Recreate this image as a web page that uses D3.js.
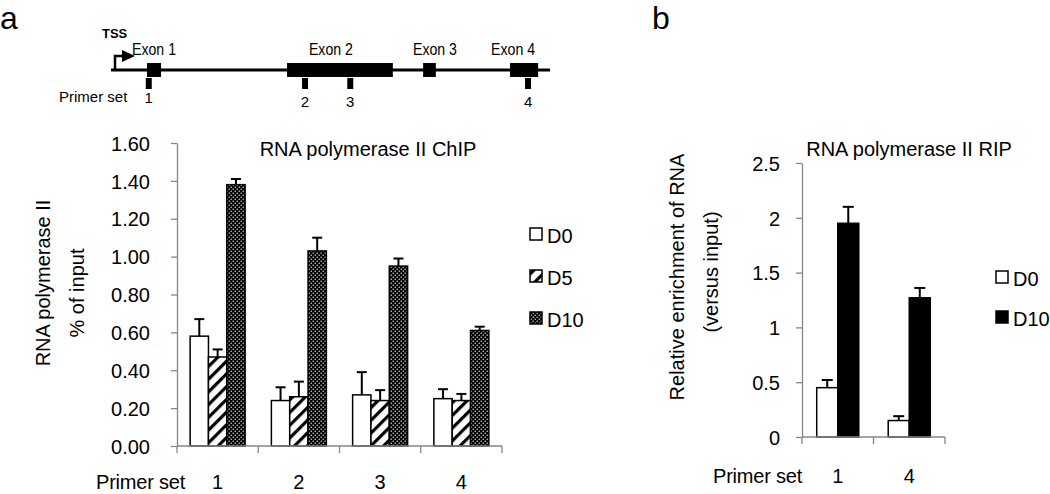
<!DOCTYPE html>
<html>
<head>
<meta charset="utf-8">
<script src="https://cdn.jsdelivr.net/npm/d3@7"></script>
<style>
  body { margin: 0; background: #fff; }
  svg { display: block; font-family: "Liberation Sans", Arial, sans-serif; }
  .axis path, .axis line { stroke: #868686; stroke-width: 1.3; }
  .axis text { font-size: 20px; fill: #000; }
</style>
</head>
<body>
<svg id="fig" width="1050" height="494"></svg>
<script>
// panel a: RNA polymerase II ChIP
const primersA = ["1", "2", "3", "4"];
const seriesA = ["D0", "D5", "D10"];
const chipD0 = [0.58, 0.24, 0.27, 0.25];
const chipD5 = [0.47, 0.26, 0.24, 0.24];
const chipD10 = [1.38, 1.03, 0.95, 0.61];
const chipErrD0 = [0.09, 0.07, 0.12, 0.05];
const chipErrD5 = [0.04, 0.08, 0.055, 0.035];
const chipErrD10 = [0.03, 0.07, 0.04, 0.02];
const chipTicks = [0, 0.2, 0.4, 0.6, 0.8, 1.0, 1.2, 1.4, 1.6];
const chipTickLabels = ["0.00", "0.20", "0.40", "0.60", "0.80", "1.00", "1.20", "1.40", "1.60"];

// panel b: RNA polymerase II RIP
const primersB = ["1", "4"];
const seriesB = ["D0", "D10"];
const ripD0 = [0.45, 0.15];
const ripD10 = [1.95, 1.27];
const ripErrD0 = [0.07, 0.04];
const ripErrD10 = [0.15, 0.09];
const ripTicks = [0, 0.5, 1, 1.5, 2, 2.5];
const ripTickLabels = ["0", "0.5", "1", "1.5", "2", "2.5"];

// gene diagram (relative positions along the gene line)
const exonNames = ["Exon 1", "Exon 2", "Exon 3", "Exon 4"];
const exonStart = [0.082, 0.401, 0.711, 0.909];
const exonEnd = [0.114, 0.642, 0.740, 0.973];
const exonLabelPos = [0.098, 0.501, 0.738, 0.916];
const primerNames = ["1", "2", "3", "4"];
const primerPos = [0.086, 0.442, 0.545, 0.950];

const svg = d3.select("#fig");
const defs = svg.append("defs");

const stripes = defs.append("pattern")
    .attr("id", "stripes")
    .attr("patternUnits", "userSpaceOnUse")
    .attr("width", 9).attr("height", 9)
    .attr("patternTransform", "rotate(45)");
stripes.append("rect").attr("width", 9).attr("height", 9).attr("fill", "#fff");
stripes.append("rect").attr("width", 3.2).attr("height", 9).attr("fill", "#000");

const dots = defs.append("pattern")
    .attr("id", "dots")
    .attr("patternUnits", "userSpaceOnUse")
    .attr("width", 4).attr("height", 4);
dots.append("rect").attr("width", 4).attr("height", 4).attr("fill", "#000");
dots.append("rect").attr("x", 0.6).attr("y", 0.6).attr("width", 1.2).attr("height", 1.2).attr("fill", "#fff");
dots.append("rect").attr("x", 2.6).attr("y", 2.6).attr("width", 1.2).attr("height", 1.2).attr("fill", "#fff");

const fills = { D0: "#fff", D5: "url(#stripes)", D10: "url(#dots)" };

// panel letters
svg.append("text").attr("x", 0).attr("y", 29).attr("font-size", 32).text("a");
svg.append("text").attr("x", 652).attr("y", 29).attr("font-size", 32).text("b");

// ---- gene diagram ----
const gx = d3.scaleLinear().domain([0, 1]).range([111, 550]);
const gene = svg.append("g");
const lineY = 70;

gene.append("line")
    .attr("x1", gx(0)).attr("x2", gx(1))
    .attr("y1", lineY).attr("y2", lineY)
    .attr("stroke", "#000").attr("stroke-width", 3);

gene.selectAll(".exon").data(exonNames).enter().append("rect")
    .attr("class", "exon")
    .attr("x", (d, i) => gx(exonStart[i]))
    .attr("width", (d, i) => gx(exonEnd[i]) - gx(exonStart[i]))
    .attr("y", lineY - 7).attr("height", 14)
    .attr("fill", "#000");

gene.selectAll(".exonLabel").data(exonNames).enter().append("text")
    .attr("class", "exonLabel")
    .attr("x", (d, i) => gx(exonLabelPos[i]))
    .attr("y", 55)
    .attr("text-anchor", "middle")
    .attr("font-size", 17)
    .attr("textLength", 44).attr("lengthAdjust", "spacingAndGlyphs")
    .text(d => d);

gene.selectAll(".primer").data(primerNames).enter().append("rect")
    .attr("class", "primer")
    .attr("x", (d, i) => gx(primerPos[i]) - 3)
    .attr("width", 6)
    .attr("y", lineY + 8).attr("height", 11)
    .attr("fill", "#000");

gene.selectAll(".primerLabel").data(primerNames).enter().append("text")
    .attr("class", "primerLabel")
    .attr("x", (d, i) => gx(primerPos[i]))
    .attr("y", (d, i) => i === 0 ? 103 : 107)
    .attr("text-anchor", "middle")
    .attr("font-size", 15)
    .text(d => d);

gene.append("text").attr("x", 59).attr("y", 102)
    .attr("font-size", 15).text("Primer set");

// TSS arrow
gene.append("path")
    .attr("d", `M${gx(0) + 4},${lineY} V56 H123`)
    .attr("fill", "none").attr("stroke", "#000").attr("stroke-width", 2.5);
gene.append("path")
    .attr("d", "M122,50 L135,56 L122,62 Z")
    .attr("fill", "#000");
gene.append("text").attr("x", 102).attr("y", 38)
    .attr("font-size", 13).attr("font-weight", "bold").text("TSS");

// ---- grouped bar chart helper ----
function drawBars(opt) {
    const g = svg.append("g");
    const x0 = d3.scaleBand().domain(opt.cats).range([opt.left, opt.right]).padding(0);
    const x1 = d3.scaleBand().domain(opt.series).range([0, x0.bandwidth()])
        .paddingInner(0).paddingOuter(opt.outer);
    const y = d3.scaleLinear().domain([0, opt.max]).range([opt.bottom, opt.top]);

    // y axis
    const yAxis = d3.axisLeft(y).tickValues(opt.ticks)
        .tickFormat((d, i) => opt.tickLabels[i])
        .tickSize(6).tickPadding(opt.tickPad).tickSizeOuter(0);
    g.append("g").attr("class", "axis")
        .attr("transform", `translate(${opt.left},0)`)
        .call(yAxis)
        .call(s => s.selectAll("text").attr("dy", "0.36em"));

    const rows = [];
    opt.series.forEach((s, si) => {
        opt.cats.forEach((c, ci) => {
            rows.push({ s, c, v: opt.values[si][ci], e: opt.errors[si][ci] });
        });
    });

    // error bars (drawn first so bar sits over the stem)
    const cap = opt.cap;
    const eb = g.selectAll(".err").data(rows).enter().append("g").attr("class", "err");
    eb.append("line")
        .attr("x1", d => x0(d.c) + x1(d.s) + x1.bandwidth() / 2)
        .attr("x2", d => x0(d.c) + x1(d.s) + x1.bandwidth() / 2)
        .attr("y1", d => y(d.v)).attr("y2", d => y(d.v + d.e))
        .attr("stroke", "#000").attr("stroke-width", 2);
    eb.append("line")
        .attr("x1", d => x0(d.c) + x1(d.s) + x1.bandwidth() / 2 - cap / 2)
        .attr("x2", d => x0(d.c) + x1(d.s) + x1.bandwidth() / 2 + cap / 2)
        .attr("y1", d => y(d.v + d.e)).attr("y2", d => y(d.v + d.e))
        .attr("stroke", "#000").attr("stroke-width", 2);

    g.selectAll(".bar").data(rows).enter().append("rect")
        .attr("class", "bar")
        .attr("x", d => x0(d.c) + x1(d.s))
        .attr("width", x1.bandwidth())
        .attr("y", d => y(d.v))
        .attr("height", d => opt.bottom - y(d.v))
        .attr("fill", d => opt.fills[d.s])
        .attr("stroke", "#000").attr("stroke-width", 1.5);

    // x axis with ticks between categories
    g.append("line").attr("class", "axisline")
        .attr("x1", opt.left).attr("x2", opt.right)
        .attr("y1", opt.bottom).attr("y2", opt.bottom)
        .attr("stroke", "#868686").attr("stroke-width", 1.3);
    const bounds = opt.cats.map(c => x0(c)).concat([opt.right]);
    g.selectAll(".xtick").data(bounds).enter().append("line")
        .attr("x1", d => d).attr("x2", d => d)
        .attr("y1", opt.bottom).attr("y2", opt.bottom + 7)
        .attr("stroke", "#868686").attr("stroke-width", 1.3);
    g.selectAll(".xlabel").data(opt.cats).enter().append("text")
        .attr("x", d => x0(d) + x0.bandwidth() / 2)
        .attr("y", opt.labelY)
        .attr("text-anchor", "middle").attr("font-size", 20)
        .text(d => d);
    g.append("text").attr("x", opt.primerX).attr("y", opt.labelY)
        .attr("font-size", 20).attr("letter-spacing", -0.2).text("Primer set");

    // title
    g.append("text").attr("x", opt.titleX).attr("y", opt.titleY)
        .attr("text-anchor", "middle").attr("font-size", 20).text(opt.title);

    // y title (two lines)
    opt.yTitle.forEach((t, i) => {
        g.append("text")
            .attr("transform", `translate(${opt.yTitleX[i]},${opt.yTitleY[i]}) rotate(-90)`)
            .attr("text-anchor", "middle").attr("dy", "0.35em")
            .attr("font-size", 20).text(t);
    });

    // legend
    opt.series.forEach((s, i) => {
        const ly = opt.legendY + i * opt.legendStep;
        g.append("rect").attr("x", opt.legendX).attr("y", ly - 6)
            .attr("width", 12).attr("height", 12)
            .attr("fill", opt.fills[s]).attr("stroke", "#000").attr("stroke-width", 1.5);
        g.append("text").attr("x", opt.legendX + 17).attr("y", ly + 9)
            .attr("font-size", 20).text(s);
    });
}

drawBars({
    cats: primersA, series: seriesA,
    values: [chipD0, chipD5, chipD10],
    errors: [chipErrD0, chipErrD5, chipErrD10],
    fills: fills,
    left: 177, right: 502, top: 143, bottom: 446, max: 1.6, outer: 0.716,
    ticks: chipTicks, tickLabels: chipTickLabels, tickPad: 21, cap: 10,
    labelY: 489, primerX: 96,
    title: "RNA polymerase II ChIP", titleX: 368, titleY: 156,
    yTitle: ["RNA polymerase II", "% of input"], yTitleX: [43, 77], yTitleY: [283, 293],
    legendX: 530, legendY: 234, legendStep: 42
});

drawBars({
    cats: primersB, series: seriesB,
    values: [ripD0, ripD10],
    errors: [ripErrD0, ripErrD10],
    fills: { D0: "#fff", D10: "#000" },
    left: 802, right: 945, top: 163, bottom: 437, max: 2.5, outer: 0.7,
    ticks: ripTicks, tickLabels: ripTickLabels, tickPad: 16, cap: 11,
    labelY: 483, primerX: 713,
    title: "RNA polymerase II RIP", titleX: 909, titleY: 156,
    yTitle: ["Relative enrichment of RNA", "(versus input)"], yTitleX: [677, 711], yTitleY: [277, 272],
    legendX: 996, legendY: 277, legendStep: 40
});
</script>
</body>
</html>
